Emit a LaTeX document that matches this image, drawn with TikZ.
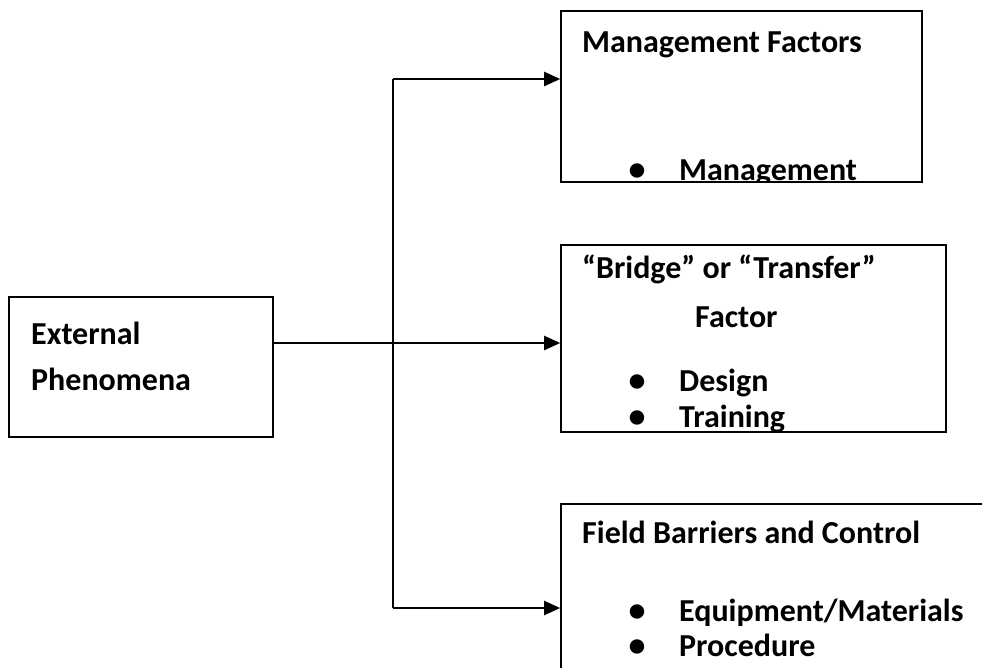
\documentclass[tikz,border=0pt]{standalone}
\usepackage{fontspec}
\setmainfont{Carlito}
\usetikzlibrary{arrows.meta}
\tikzset{
  box/.style={draw=black, line width=1.6pt, inner sep=0pt, minimum width=#1},
  txt/.style={anchor=base west, inner sep=0pt, font=\fontsize{32}{38}\selectfont\bfseries},
  bul/.style={anchor=base, inner sep=0pt, font=\fontsize{34}{38}\selectfont\bfseries},
  arr/.style={line width=2.2pt, -{Triangle[length=16pt, width=14pt]}},
  ln/.style={line width=2.2pt}
}
\begin{document}
\begin{tikzpicture}[x=1pt, y=-1pt]
\useasboundingbox (0,0) rectangle (982,667);
\clip (0,0) rectangle (982,667);
\fill[white] (0,0) rectangle (982,667);
% boxes
\node[box=264pt, minimum height=140pt] (ext) at (141,367) {};
\node[box=361pt, minimum height=171pt] (mgmt) at (741.5,96.5) {};
\node[box=385pt, minimum height=187pt] (bridge) at (753.5,338.5) {};
\node[box=460pt, minimum height=200pt] (field) at (791,604) {};
% junction coordinates
\coordinate (jt) at (393,79);
\coordinate (jm) at (393,343);
\coordinate (jb) at (393,608);
% connectors
\draw[ln] (jt) -- (jb);
\draw[arr] (jt) -- (mgmt.west |- jt);
\draw[arr] (ext.east |- jm) -- (bridge.west |- jm);
\draw[arr] (jb) -- (field.west |- jb);
% texts
\node[txt] (e1) at (31,344) {External};
\node[txt] (e2) at (31,390) {Phenomena};
\begin{scope}
\clip (561,11) rectangle (922,182);
\node[txt] (m1) at (582,52) {Management Factors};
\node[bul] (mb1) at (637,180) {•};
\node[txt] (m2) at (679,180) {Management};
\end{scope}
\begin{scope}
\clip (561,245) rectangle (946,432);
\node[txt] (b1) at (582,278) {“Bridge” or “Transfer”};
\node[txt] (b2) at (695,327) {Factor};
\node[bul] (bb1) at (637,391.5) {•};
\node[txt] (b3) at (679,391.5) {Design};
\node[bul] (bb2) at (637,427) {•};
\node[txt] (b4) at (679,427) {Training};
\end{scope}
\node[txt] (f1) at (582,543) {Field Barriers and Control};
\node[bul] (fb1) at (637,621) {•};
\node[txt] (f2) at (679,621) {Equipment/Materials};
\node[bul] (fb2) at (637,656) {•};
\node[txt] (f3) at (679,656) {Procedure};
\end{tikzpicture}
\end{document}
